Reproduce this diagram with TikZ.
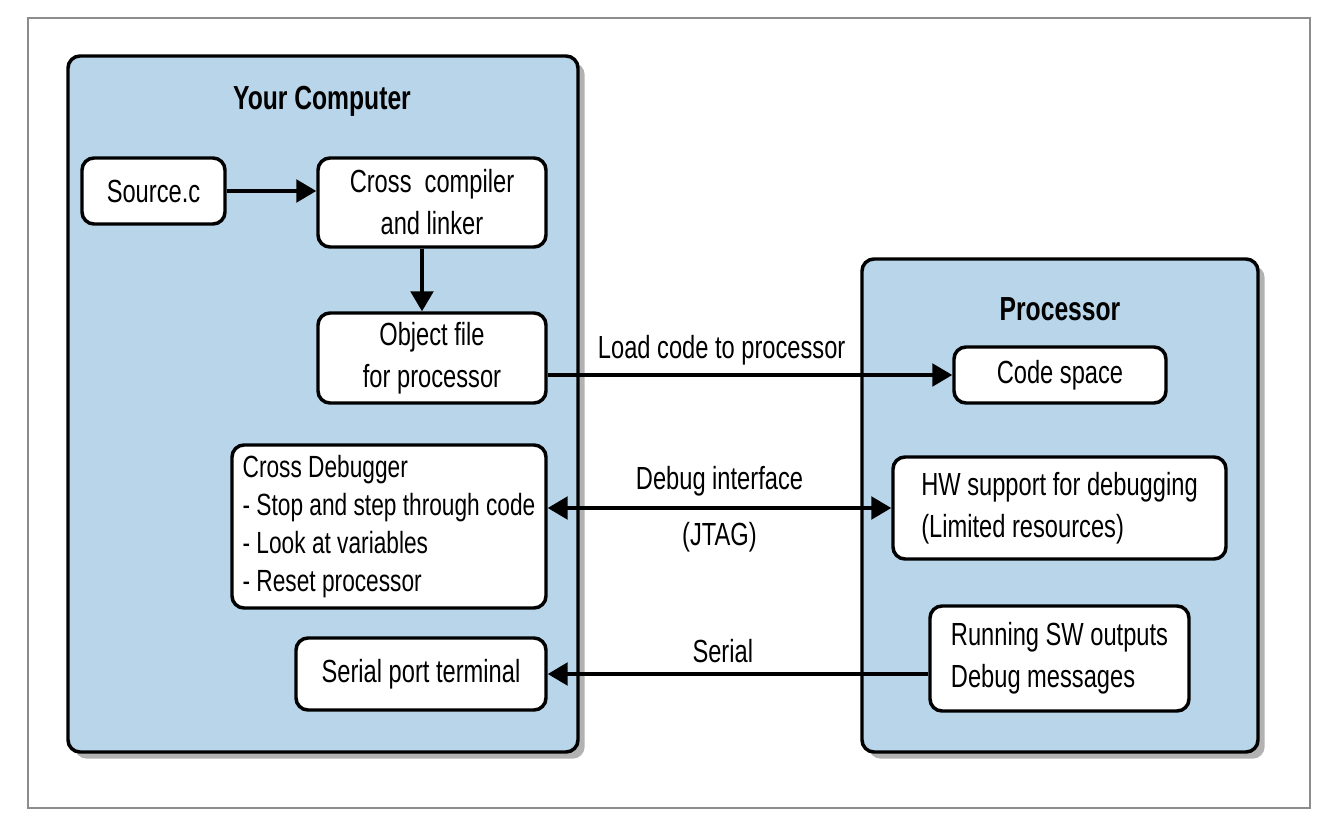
\documentclass[tikz,border=0pt]{standalone}
\usepackage{fontspec}
\setmainfont{Liberation Sans}[FakeStretch=0.74]
\usetikzlibrary{arrows.meta,shadows}
\tikzset{every picture/.style={line width=0.75pt}}
\definecolor{boxblue}{RGB}{185,213,233}
\tikzset{
  panel/.style={draw, line width=2.6pt, rounded corners=9pt, fill=boxblue, inner sep=0pt,
    drop shadow={shadow xshift=5pt, shadow yshift=-5pt, opacity=0.5, fill=black!60}},
  block/.style={draw, line width=2.6pt, rounded corners=9pt, fill=white, inner sep=0pt,
    font=\fontsize{24}{31.5}\selectfont, align=center},
  lbl/.style={inner sep=0.75pt, font=\fontsize{24}{31.5}\selectfont},
  ttl/.style={inner sep=0.75pt, font=\fontsize{25}{31.5}\selectfont\bfseries},
  arr/.style={line width=2.6pt, -{Triangle[length=15pt,width=17pt]}},
  dblarr/.style={line width=2.6pt, {Triangle[length=15pt,width=17pt]}-{Triangle[length=15pt,width=17pt]}},
}
\begin{document}
\begin{tikzpicture}[x=0.75pt,y=0.75pt,yscale=-1,xscale=1]
\path[use as bounding box] (0,0) rectangle (1340,832);

%Shape: Frame
\draw[color=black!45, line width=1.1pt] (28,18) rectangle (1310,808);

%Shape: Rounded Rect [your computer]
\node[panel, minimum width=382.5pt, minimum height=522pt] (comp) at (323,404) {};
%Shape: Rounded Rect [processor]
\node[panel, minimum width=297pt, minimum height=369.75pt] (proc) at (1060,505.5) {};

% Text Node
\node[ttl] (compTitle) at (322,101) {Your Computer};
% Text Node
\node[ttl] (procTitle) at (1060,309) {Processor};

%Shape: Rounded Rect
\node[block, minimum width=107.25pt, minimum height=49.5pt] (src) at (153.5,191) {Source.c};
%Shape: Rounded Rect
\node[block, minimum width=171pt, minimum height=66.75pt] (cc) at (432,202.5) {Cross\ \ compiler\\and linker};
%Shape: Rounded Rect
\node[block, minimum width=171pt, minimum height=67.5pt] (obj) at (432,358) {Object file\\for processor};
%Shape: Rounded Rect
\node[block, minimum width=235.5pt, minimum height=122.25pt, align=left,
  font=\fontsize{23}{28.5}\selectfont] (dbg) at (389,526.5)
  {Cross Debugger\\- Stop and step through code\\- Look at variables\\- Reset processor};
%Shape: Rounded Rect
\node[block, minimum width=187.5pt, minimum height=54pt] (spt) at (421,674) {Serial port terminal};

%Shape: Rounded Rect
\node[block, minimum width=159pt, minimum height=42pt] (code) at (1060,375) {Code space};
%Shape: Rounded Rect
\node[block, minimum width=249.75pt, minimum height=76.5pt, align=left] (hw) at (1059.5,508)
  {HW support for debugging\\(Limited resources)};
%Shape: Rounded Rect
\node[block, minimum width=194.25pt, minimum height=78.75pt, align=left] (run) at (1059.5,658.5)
  {Running SW outputs\\Debug messages};

%Straight Lines
\draw[arr] (src.east) -- (src.east -| cc.west);
\draw[arr] ([xshift=-7.5pt]cc.south) -- ([xshift=-7.5pt]obj.north);
\draw[arr] (obj.east |- code.west) -- (code.west) node[lbl, pos=0.43, above=5pt] (loadLbl) {Load code to processor};
\draw[dblarr] (dbg.east |- hw.west) -- (hw.west)
  node[lbl, midway, above=7pt] (dbgLbl) {Debug interface}
  node[lbl, midway, below=9pt] (jtagLbl) {(JTAG)};
\draw[arr] (run.west |- spt.east) -- (spt.east) node[lbl, pos=0.54, above=6pt] (serLbl) {Serial};

\end{tikzpicture}
\end{document}
